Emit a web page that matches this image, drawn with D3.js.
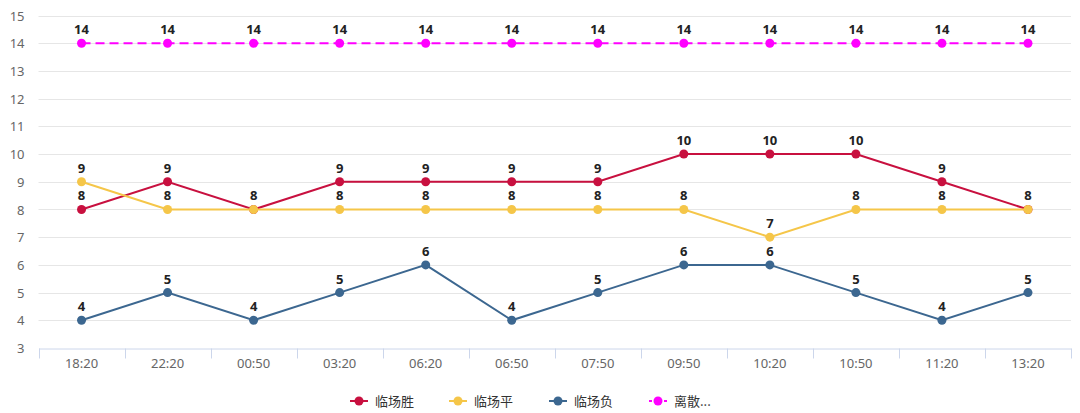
<!DOCTYPE html>
<html>
<head>
<meta charset="utf-8">
<script src="https://cdn.jsdelivr.net/npm/d3@7/dist/d3.min.js"></script>
<style>
  html, body { margin: 0; padding: 0; background: #fff; }
  svg { display: block; font-family: "Noto Sans CJK SC", "Noto Sans", sans-serif; }
</style>
</head>
<body>
<div id="chart"></div>
<script>
const categories = ['18:20', '22:20', '00:50', '03:20', '06:20', '06:50', '07:50', '09:50', '10:20', '10:50', '11:20', '13:20'];
const winValues  = [8, 9, 8, 9, 9, 9, 9, 10, 10, 10, 9, 8];
const drawValues = [9, 8, 8, 8, 8, 8, 8, 8, 7, 8, 8, 8];
const loseValues = [4, 5, 4, 5, 6, 4, 5, 6, 6, 5, 4, 5];
const discValues = [14, 14, 14, 14, 14, 14, 14, 14, 14, 14, 14, 14];
const yTicks = [3, 4, 5, 6, 7, 8, 9, 10, 11, 12, 13, 14, 15];

const series = [
  { name: '临场胜', legend: '临场胜', values: winValues,  color: '#c8103f', dash: null },
  { name: '临场平', legend: '临场平', values: drawValues, color: '#f5c649', dash: null },
  { name: '临场负', legend: '临场负', values: loseValues, color: '#3c6790', dash: null },
  { name: '离散',   legend: '离散...', values: discValues, color: '#ff00ff', dash: '9,5' },
];

const W = 1080, H = 413;
const M = { left: 38.5, right: 9, top: 15.5, bottom: 65 };

const svg = d3.select('#chart').append('svg').attr('width', W).attr('height', H);

const x = d3.scaleBand().domain(categories).range([M.left, W - M.right]);
const y = d3.scaleLinear().domain([3, 15]).range([H - M.bottom, M.top]);
const cx = c => x(c) + x.bandwidth() / 2;

// grid
svg.append('g')
  .selectAll('line')
  .data(yTicks.filter(t => t !== 3))
  .join('line')
  .attr('x1', M.left).attr('x2', W - M.right)
  .attr('y1', d => Math.round(y(d)) + 0.5).attr('y2', d => Math.round(y(d)) + 0.5)
  .attr('stroke', '#e6e6e6').attr('stroke-width', 1);

// y axis labels
const yAxis = svg.append('g')
  .attr('transform', `translate(${M.left - 14},0)`)
  .call(d3.axisLeft(y).tickValues(yTicks).tickSize(0).tickPadding(0));
yAxis.select('.domain').remove();
yAxis.selectAll('text')
  .attr('fill', '#666').attr('font-size', '13px')
  .attr('font-family', '"Noto Sans", sans-serif')
  .attr('dy', '0.35em');

// x axis
const xAxis = svg.append('g')
  .attr('transform', `translate(0,${Math.round(y(3)) + 0.5})`)
  .call(d3.axisBottom(x).tickSize(0).tickPadding(10));
xAxis.select('.domain').attr('stroke', '#ccd6eb');
xAxis.selectAll('text').attr('fill', '#666').attr('font-size', '13px')
  .attr('font-family', '"Noto Sans", sans-serif');
// tick marks at band boundaries
const bounds = categories.map(c => x(c)).concat([x(categories[categories.length - 1]) + x.bandwidth()]);
xAxis.append('g').selectAll('line')
  .data(bounds)
  .join('line')
  .attr('x1', d => Math.round(d) + 0.5).attr('x2', d => Math.round(d) + 0.5)
  .attr('y1', 0).attr('y2', 10)
  .attr('stroke', '#ccd6eb');

// series
const line = d3.line().x((d, i) => cx(categories[i])).y(d => y(d));

series.forEach(s => {
  const g = svg.append('g');
  g.append('path')
    .attr('d', line(s.values))
    .attr('fill', 'none')
    .attr('stroke', s.color)
    .attr('stroke-width', 2)
    .attr('stroke-dasharray', s.dash);
  g.selectAll('circle')
    .data(s.values)
    .join('circle')
    .attr('cx', (d, i) => cx(categories[i]))
    .attr('cy', d => y(d))
    .attr('r', 4.5)
    .attr('fill', s.color);
});

// data labels (drawn on top)
series.forEach(s => {
  svg.append('g').selectAll('text')
    .data(s.values)
    .join('text')
    .attr('x', (d, i) => cx(categories[i]))
    .attr('y', d => y(d) - 9)
    .attr('text-anchor', 'middle')
    .attr('fill', '#222')
    .attr('font-size', '13px')
    .attr('font-weight', 'bold')
    .attr('font-family', '"Noto Sans", sans-serif')
    .attr('stroke', '#fff').attr('stroke-width', 2).attr('paint-order', 'stroke')
    .text(d => d);
});

// legend
const legendX = [350, 449, 549, 649];
const legend = svg.append('g').attr('transform', 'translate(0,401)');
series.forEach((s, i) => {
  const item = legend.append('g').attr('transform', `translate(${legendX[i]},0)`);
  item.append('line')
    .attr('x1', 0).attr('x2', 18).attr('y1', 0).attr('y2', 0)
    .attr('stroke', s.color).attr('stroke-width', 2)
    .attr('stroke-dasharray', s.dash ? '3,2' : null);
  item.append('circle').attr('cx', 9).attr('cy', 0).attr('r', 4.5).attr('fill', s.color);
  item.append('text')
    .attr('x', 25).attr('y', 0).attr('dy', '0.35em')
    .attr('fill', '#333').attr('font-size', '13px')
    .text(s.legend);
});
</script>
</body>
</html>
